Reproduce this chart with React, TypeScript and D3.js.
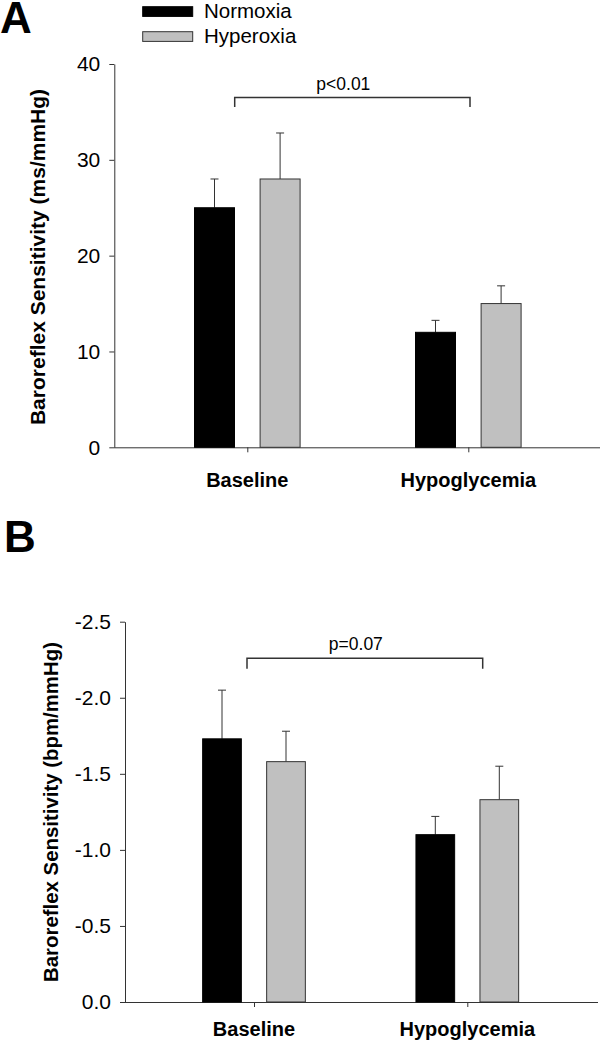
import React, { useEffect, useRef } from "react";
import * as d3 from "d3";

const FONT = "'Liberation Sans', Arial, Helvetica, sans-serif";

const categories = ["Baseline", "Hypoglycemia"];
const seriesNames = ["Normoxia", "Hyperoxia"];
const seriesFill = ["#000000", "#c0c0c0"];

// panel A (ms/mmHg)
const normoxiaA = [25.0, 12.0];
const normoxiaAErr = [3.0, 1.25];
const hyperoxiaA = [28.0, 15.0];
const hyperoxiaAErr = [4.8, 1.85];
const ticksA = [0, 10, 20, 30, 40];

// panel B (bpm/mmHg), negative values drawn upward
const normoxiaB = [-1.73, -1.1];
const normoxiaBErr = [-0.32, -0.12];
const hyperoxiaB = [-1.58, -1.33];
const hyperoxiaBErr = [-0.2, -0.22];
const ticksB = [0, -0.5, -1.0, -1.5, -2.0, -2.5];

function drawPanel(svg: any, p: any) {
  const y = d3.scaleLinear().domain(p.domain).range([p.y0, p.yTop]);
  const x = d3.scalePoint().domain(categories).range(p.xRange);
  const xs = d3.scalePoint().domain(seriesNames).range([-p.offset, p.offset]);

  const g = svg.append("g");

  // y axis
  g.append("g")
    .attr("transform", `translate(${p.axisX},0)`)
    .call(
      d3.axisLeft(y)
        .tickValues(p.ticks)
        .tickFormat(p.fmt)
        .tickSize(5)
        .tickSizeOuter(0)
        .tickPadding(9)
    )
    .call((a: any) => a.selectAll("line,path").attr("stroke", "#333"))
    .call((a: any) =>
      a.selectAll("text").attr("font-size", 21).attr("font-family", FONT).attr("fill", "#000")
    );

  // x axis line + ticks
  g.append("line")
    .attr("x1", p.axisX)
    .attr("x2", p.right)
    .attr("y1", y(0) + 0.5)
    .attr("y2", y(0) + 0.5)
    .attr("stroke", "#333");
  g.selectAll(".xtick")
    .data(categories)
    .enter()
    .append("line")
    .attr("x1", (d: string) => x(d)! + 0.5)
    .attr("x2", (d: string) => x(d)! + 0.5)
    .attr("y1", y(0))
    .attr("y2", y(0) + 5)
    .attr("stroke", "#333");
  g.selectAll(".xlab")
    .data(categories)
    .enter()
    .append("text")
    .attr("x", (d: string) => x(d)!)
    .attr("y", y(0) + p.labelGap)
    .attr("text-anchor", "middle")
    .attr("font-family", FONT)
    .attr("font-weight", "bold")
    .attr("font-size", 20)
    .text((d: string) => d);

  // bars
  const rows = categories.flatMap((c, i) =>
    p.means.map((m: number[], s: number) => ({
      c,
      s,
      v: m[i],
      e: p.errs[s][i],
    }))
  );
  const cx = (d: any) => x(d.c)! + xs(seriesNames[d.s])!;

  g.selectAll(".err")
    .data(rows)
    .enter()
    .append("line")
    .attr("x1", (d: any) => cx(d))
    .attr("x2", (d: any) => cx(d))
    .attr("y1", (d: any) => y(d.v))
    .attr("y2", (d: any) => y(d.v + d.e))
    .attr("stroke", "#333");
  g.selectAll(".cap")
    .data(rows)
    .enter()
    .append("line")
    .attr("x1", (d: any) => cx(d) - 4)
    .attr("x2", (d: any) => cx(d) + 4)
    .attr("y1", (d: any) => y(d.v + d.e))
    .attr("y2", (d: any) => y(d.v + d.e))
    .attr("stroke", "#333");

  g.selectAll(".bar")
    .data(rows)
    .enter()
    .append("rect")
    .attr("x", (d: any) => cx(d) - p.barW / 2)
    .attr("y", (d: any) => Math.min(y(d.v), y(0)))
    .attr("width", p.barW)
    .attr("height", (d: any) => Math.abs(y(0) - y(d.v)))
    .attr("fill", (d: any) => seriesFill[d.s])
    .attr("stroke", (d: any) => (d.s === 0 ? "#000" : "#333"))
    .attr("stroke-width", 1);

  // significance bracket
  const bx1 = x(categories[0])! + p.bracketEnds[0];
  const bx2 = x(categories[1])! + p.bracketEnds[1];
  const by = y(p.bracket[0]);
  const byEnd = y(p.bracket[1]);
  g.append("path")
    .attr("d", `M${bx1},${byEnd}V${by}H${bx2}V${byEnd}`)
    .attr("fill", "none")
    .attr("stroke", "#333")
    .attr("stroke-width", 1.5);
  g.append("text")
    .attr("x", (bx1 + bx2) / 2 - 9)
    .attr("y", by - 8)
    .attr("text-anchor", "middle")
    .attr("font-family", FONT)
    .attr("font-size", 17.5)
    .text(p.pText);

  // y label
  g.append("text")
    .attr("transform", `translate(${p.ylabX},${p.ylabY}) rotate(-90)`)
    .attr("text-anchor", "middle")
    .attr("font-family", FONT)
    .attr("font-weight", "bold")
    .attr("font-size", p.ylabSize)
    .text(p.ylabel);

  // panel letter
  g.append("text")
    .attr("x", p.letterX)
    .attr("y", p.letterY)
    .attr("font-family", FONT)
    .attr("font-weight", "bold")
    .attr("font-size", 44)
    .text(p.letter);
}

export default function App() {
  const ref = useRef<SVGSVGElement>(null);

  useEffect(() => {
    const svg = d3.select(ref.current);
    svg.selectAll("*").remove();

    drawPanel(svg, {
      domain: [0, 40],
      y0: 447.3,
      yTop: 64,
      xRange: [247.3, 468.3],
      offset: 32.8,
      barW: 40,
      axisX: 114.3,
      right: 600,
      ticks: ticksA,
      fmt: (d: number) => String(d),
      means: [normoxiaA, hyperoxiaA],
      errs: [normoxiaAErr, hyperoxiaAErr],
      labelGap: 40,
      bracket: [36.5, 35.5],
      bracketEnds: [-12.6, 1.7],
      pText: "p<0.01",
      ylabel: "Baroreflex Sensitivity (ms/mmHg)",
      ylabX: 45,
      ylabY: 257,
      ylabSize: 21,
      letter: "A",
      letterX: 0,
      letterY: 33,
    });

    drawPanel(svg, {
      domain: [0, -2.5],
      y0: 1002,
      yTop: 621.7,
      xRange: [254, 467.3],
      offset: 32,
      barW: 38.7,
      axisX: 125,
      right: 598,
      ticks: ticksB,
      fmt: (d: number) => d.toFixed(1),
      means: [normoxiaB, hyperoxiaB],
      errs: [normoxiaBErr, hyperoxiaBErr],
      labelGap: 34,
      bracket: [-2.26, -2.19],
      bracketEnds: [-7, 15.4],
      pText: "p=0.07",
      ylabel: "Baroreflex Sensitivity (bpm/mmHg)",
      ylabX: 58.3,
      ylabY: 812,
      ylabSize: 20.4,
      letter: "B",
      letterX: 4,
      letterY: 551.7,
    });

    // legend
    const legend = svg.append("g");
    const rowsY = [6.7, 31.7];
    const textY = [18.3, 43.3];
    seriesNames.forEach((name, i) => {
      legend
        .append("rect")
        .attr("x", 142.7)
        .attr("y", rowsY[i])
        .attr("width", 50)
        .attr("height", 9.7)
        .attr("fill", seriesFill[i])
        .attr("stroke", i === 0 ? "#000" : "#333");
      legend
        .append("text")
        .attr("x", 204)
        .attr("y", textY[i])
        .attr("font-family", FONT)
        .attr("font-size", 20.5)
        .text(name);
    });
  }, []);

  return (
    <svg
      ref={ref}
      width={602}
      height={1050}
      style={{ position: "absolute", left: 0, top: 0, background: "#fff" }}
    />
  );
}
